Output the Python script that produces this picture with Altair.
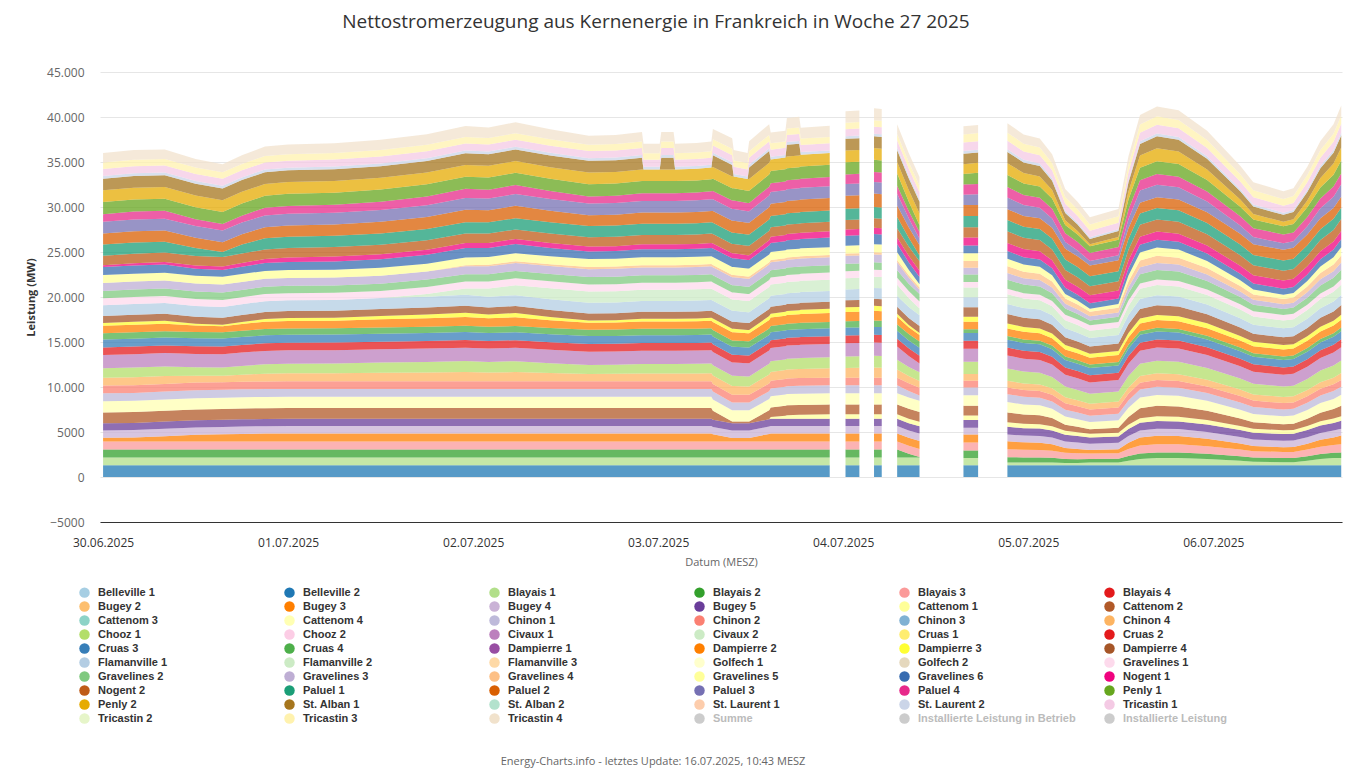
import altair as alt
import pandas as pd

TITLE = "Nettostromerzeugung aus Kernenergie in Frankreich in Woche 27 2025"
FOOTER = "Energy-Charts.info - letztes Update: 16.07.2025, 10:43 MESZ"
X_TITLE = "Datum (MESZ)"
Y_TITLE = "Leistung (MW)"
START = "2025-06-30 00:00:00"
DAYS = [(6, 30), (7, 1), (7, 2), (7, 3), (7, 4), (7, 5), (7, 6)]
Y_TICKS = [-5000, 0, 5000, 10000, 15000, 20000, 25000, 30000, 35000, 40000, 45000]

UNITS = [
    "Belleville 1", "Belleville 2", "Blayais 1", "Blayais 2", "Blayais 3", "Blayais 4",
    "Bugey 2", "Bugey 3", "Bugey 4", "Bugey 5", "Cattenom 1", "Cattenom 2",
    "Cattenom 3", "Cattenom 4", "Chinon 1", "Chinon 2", "Chinon 3", "Chinon 4",
    "Chooz 1", "Chooz 2", "Civaux 1", "Civaux 2", "Cruas 1", "Cruas 2",
    "Cruas 3", "Cruas 4", "Dampierre 1", "Dampierre 2", "Dampierre 3", "Dampierre 4",
    "Flamanville 1", "Flamanville 2", "Flamanville 3", "Golfech 1", "Golfech 2", "Gravelines 1",
    "Gravelines 2", "Gravelines 3", "Gravelines 4", "Gravelines 5", "Gravelines 6", "Nogent 1",
    "Nogent 2", "Paluel 1", "Paluel 2", "Paluel 3", "Paluel 4", "Penly 1",
    "Penly 2", "St. Alban 1", "St. Alban 2", "St. Laurent 1", "St. Laurent 2", "Tricastin 1",
    "Tricastin 2", "Tricastin 3", "Tricastin 4",
]
COLORS = [
    "#a6cee3", "#1f78b4", "#b2df8a", "#33a02c", "#fb9a99", "#e31a1c",
    "#fdbf6f", "#ff7f00", "#cab2d6", "#6a3d9a", "#ffff99", "#b15928",
    "#8dd3c7", "#ffffb3", "#bebada", "#fb8072", "#80b1d3", "#fdb462",
    "#b3de69", "#fccde5", "#bc80bd", "#ccebc5", "#ffed6f", "#e41a1c",
    "#377eb8", "#4daf4a", "#984ea3", "#ff7f00", "#ffff33", "#a65628",
    "#b3cde3", "#ccebc5", "#fed9a6", "#ffffcc", "#e5d8bd", "#fddaec",
    "#7fc97f", "#beaed4", "#fdc086", "#ffff99", "#386cb0", "#f0027f",
    "#bf5b17", "#1b9e77", "#d95f02", "#7570b3", "#e7298a", "#66a61e",
    "#e6ab02", "#a6761d", "#b3e2cd", "#fdcdac", "#cbd5e8", "#f4cae4",
    "#e6f5c9", "#fff2ae", "#f1e2cc",
]
EXTRA_ENTRIES = ["Summe", "Installierte Leistung in Betrieb", "Installierte Leistung"]
EXTRA_COLORS = ["#cccccc", "#cccccc", "#cccccc"]

# hours after 30.06.2025 00:00 (MESZ)
HOURS = [
    0, 4, 8, 12, 15.5, 18, 21, 24, 30, 36, 42, 47, 50, 53.5, 58, 63, 66.5,
    69.9, 70.1, 72.2, 72.4, 74.0, 74.2, 77, 78.9, 79.1, 81.6, 81.8, 83.6, 83.8, 86.4, 86.6, 88.5, 88.7, 90.3, 90.5, 94.25,
    96.3, 98.1, 100.0, 101.0, 103.0, 104.5, 105.9,
    111.6, 113.5,
    117.3, 119.4, 121.5, 123.1, 124.8, 126.4, 128, 131.7, 133, 134.5, 136.7, 139.5, 143.2, 147.5, 149.2, 153.1, 154.4, 156.2, 157.9, 159.6, 160.6,
]
# hours without data (the areas break there)
GAP_HOURS = [95.3, 99.0, 102.0, 108.0, 115.0]

# net generation in MW per unit (units not listed produced nothing)
MW = {
    "Belleville 2": [
        1300, 1300, 1300, 1300, 1300, 1300, 1300, 1300, 1300, 1300, 1300, 1300, 1300, 1300, 1300, 1300, 1300,
        1300, 1300, 1300, 1300, 1300, 1300, 1300, 1300, 1300, 1300, 1300, 1300, 1300, 1300, 1300, 1300, 1300, 1300, 1300, 1300,
        1300, 1300, 1300, 1300, 1300, 1300, 1300,
        1300, 1300,
        1300, 1300, 1300, 1300, 1300, 1300, 1300, 1300, 1300, 1300, 1300, 1300, 1300, 1300, 1300, 1300, 1300, 1300, 1300, 1300, 1300],
    "Blayais 1": [
        880, 880, 880, 880, 880, 880, 880, 880, 880, 880, 880, 880, 880, 880, 880, 880, 880,
        880, 880, 880, 880, 880, 880, 880, 880, 880, 880, 880, 880, 880, 880, 880, 880, 880, 880, 880, 880,
        880, 880, 880, 880, 880, 880, 880,
        800, 800,
        300, 300, 300, 300, 250, 250, 300, 300, 500, 700, 800, 800, 700, 500, 400, 350, 350, 500, 700, 800, 800],
    "Blayais 2": [
        880, 880, 880, 880, 880, 880, 880, 880, 880, 880, 880, 880, 880, 880, 880, 880, 880,
        880, 880, 880, 880, 880, 880, 880, 880, 880, 880, 880, 880, 880, 880, 880, 880, 880, 880, 880, 880,
        880, 880, 880, 880, 880, 400, 50,
        850, 850,
        600, 580, 570, 530, 460, 430, 400, 420, 530, 610, 630, 620, 580, 510, 470, 450, 460, 500, 550, 590, 630],
    "Blayais 3": [
        880, 880, 880, 880, 880, 880, 880, 880, 880, 880, 880, 880, 880, 880, 880, 880, 880,
        880, 880, 880, 880, 880, 880, 880, 880, 880, 880, 880, 880, 880, 880, 880, 880, 880, 880, 880, 880,
        880, 880, 880, 880, 880, 880, 880,
        880, 880,
        880, 850, 840, 790, 680, 650, 600, 630, 780, 890, 920, 910, 850, 750, 700, 680, 680, 750, 820, 860, 920],
    "Bugey 3": [
        420, 450, 600, 750, 800, 850, 880, 900, 900, 900, 900, 900, 900, 900, 900, 900, 900,
        900, 900, 900, 900, 900, 900, 900, 900, 800, 400, 400, 400, 400, 850, 900, 900, 900, 900, 900, 900,
        900, 900, 900, 900, 900, 900, 900,
        880, 880,
        880, 820, 800, 720, 540, 480, 400, 440, 700, 900, 940, 920, 820, 650, 570, 530, 540, 650, 770, 850, 950],
    "Bugey 4": [
        820, 820, 820, 820, 820, 820, 820, 820, 820, 820, 820, 820, 820, 820, 820, 820, 820,
        820, 820, 820, 820, 820, 820, 820, 820, 820, 820, 820, 820, 820, 820, 820, 820, 820, 820, 820, 820,
        820, 820, 820, 820, 820, 820, 820,
        760, 760,
        760, 750, 750, 740, 720, 710, 700, 710, 740, 760, 770, 770, 750, 730, 720, 720, 720, 730, 750, 760, 770],
    "Bugey 5": [
        800, 800, 800, 800, 800, 800, 800, 800, 800, 800, 800, 800, 800, 800, 800, 800, 800,
        800, 800, 800, 800, 800, 800, 800, 800, 800, 800, 800, 800, 800, 800, 800, 800, 800, 800, 800, 800,
        800, 800, 800, 800, 800, 800, 800,
        850, 850,
        850, 830, 830, 800, 750, 730, 700, 710, 790, 860, 870, 860, 830, 780, 750, 740, 750, 780, 820, 840, 870],
    "Cattenom 1": [
        0, 0, 0, 0, 0, 0, 0, 0, 0, 0, 0, 0, 0, 0, 0, 0, 0,
        0, 0, 0, 0, 0, 0, 0, 0, 0, 0, 0, 0, 0, 0, 200, 350, 400, 450, 450, 500,
        500, 500, 500, 500, 500, 500, 500,
        500, 500,
        500, 490, 480, 470, 430, 420, 400, 410, 460, 500, 510, 510, 490, 450, 440, 430, 430, 450, 480, 490, 510],
    "Cattenom 2": [
        1200, 1200, 1200, 1200, 1200, 1200, 1200, 1200, 1200, 1200, 1200, 1200, 1200, 1200, 1200, 1200, 1200,
        1200, 1200, 1200, 1200, 1200, 1200, 1200, 1200, 1000, 200, 200, 200, 200, 1000, 1050, 1100, 1100, 1100, 1100, 1100,
        1100, 1100, 1100, 1100, 1100, 1100, 1100,
        1100, 1100,
        1100, 1030, 1000, 900, 680, 600, 500, 550, 880, 1130, 1180, 1150, 1030, 820, 720, 660, 680, 810, 960, 1060, 1180],
    "Cattenom 4": [
        1250, 1250, 1250, 1250, 1250, 1250, 1250, 1250, 1250, 1250, 1250, 1250, 1250, 1250, 1250, 1250, 1250,
        1250, 1250, 1250, 1250, 1250, 1250, 1250, 1250, 1250, 1250, 1250, 1250, 1250, 1250, 1250, 1250, 1250, 1250, 1250, 1250,
        1250, 1250, 1250, 1250, 1250, 1250, 1250,
        1150, 1150,
        1150, 1110, 1090, 1030, 910, 860, 800, 830, 1020, 1170, 1200, 1180, 1110, 990, 930, 890, 910, 980, 1070, 1130, 1200],
    "Chinon 1": [
        880, 880, 880, 880, 880, 880, 880, 880, 880, 880, 880, 880, 880, 880, 880, 880, 880,
        880, 880, 880, 880, 880, 880, 880, 880, 880, 880, 880, 880, 880, 880, 880, 880, 880, 880, 880, 880,
        880, 880, 880, 880, 880, 730, 580,
        880, 880,
        880, 860, 850, 820, 750, 730, 700, 720, 810, 890, 900, 900, 860, 800, 770, 750, 750, 790, 840, 870, 900],
    "Chinon 2": [
        850, 850, 850, 850, 850, 850, 850, 850, 850, 850, 850, 850, 850, 850, 850, 850, 850,
        850, 850, 850, 850, 850, 850, 850, 850, 850, 850, 850, 850, 850, 850, 850, 850, 850, 850, 850, 850,
        850, 850, 850, 850, 850, 850, 850,
        750, 750,
        750, 740, 740, 730, 720, 710, 700, 700, 730, 750, 760, 750, 740, 730, 720, 710, 720, 730, 740, 750, 760],
    "Chinon 4": [
        860, 890, 880, 760, 720, 780, 860, 880, 890, 940, 980, 1030, 980, 1020, 910, 810, 820,
        860, 860, 860, 860, 860, 860, 870, 890, 940, 960, 960, 920, 920, 1000, 990, 990, 1000, 1010, 1020, 1040,
        1080, 1090, 1120, 1110, 900, 810, 770,
        750, 750,
        750, 740, 730, 720, 680, 670, 650, 660, 710, 760, 760, 760, 740, 700, 690, 680, 680, 700, 730, 740, 760],
    "Chooz 1": [
        1050, 1080, 1070, 950, 910, 970, 1050, 1070, 1080, 1130, 1170, 1220, 1170, 1210, 1100, 1000, 1010,
        1050, 1050, 1050, 1050, 1050, 1050, 1060, 1080, 1130, 1150, 1150, 1110, 1110, 1190, 1180, 1180, 1190, 1200, 1210, 1230,
        1270, 1280, 1310, 1300, 1090, 1000, 960,
        1350, 1350,
        1350, 1320, 1310, 1270, 1180, 1140, 1100, 1120, 1260, 1360, 1380, 1370, 1320, 1230, 1190, 1170, 1180, 1230, 1290, 1340, 1390],
    "Civaux 1": [
        1480, 1480, 1480, 1480, 1480, 1480, 1480, 1480, 1480, 1480, 1480, 1480, 1480, 1480, 1480, 1480, 1480,
        1480, 1480, 1480, 1480, 1480, 1480, 1480, 1480, 1480, 1480, 1480, 1480, 1480, 1480, 1480, 1480, 1480, 1480, 1480, 1480,
        1480, 1480, 1480, 1480, 1480, 1230, 980,
        1450, 1450,
        1450, 1430, 1420, 1380, 1310, 1280, 1250, 1270, 1380, 1460, 1480, 1470, 1430, 1360, 1320, 1300, 1310, 1350, 1400, 1440, 1480],
    "Cruas 2": [
        850, 850, 850, 850, 850, 850, 850, 850, 850, 850, 850, 850, 850, 850, 850, 850, 850,
        850, 850, 850, 850, 850, 850, 850, 850, 850, 850, 850, 850, 850, 850, 850, 850, 850, 850, 850, 850,
        850, 850, 850, 850, 850, 850, 850,
        880, 880,
        880, 870, 870, 850, 820, 810, 800, 810, 850, 880, 890, 890, 870, 840, 830, 820, 820, 840, 860, 880, 890],
    "Cruas 3": [
        880, 880, 880, 880, 880, 880, 880, 880, 880, 880, 880, 880, 880, 880, 880, 880, 880,
        880, 880, 880, 880, 880, 880, 880, 880, 880, 880, 880, 880, 880, 880, 880, 880, 880, 880, 880, 880,
        880, 880, 880, 880, 880, 880, 880,
        880, 880,
        880, 870, 870, 850, 820, 810, 800, 810, 850, 880, 890, 890, 870, 840, 830, 820, 820, 840, 860, 880, 890],
    "Cruas 4": [
        700, 700, 700, 700, 700, 700, 700, 700, 700, 700, 700, 700, 700, 700, 700, 700, 700,
        700, 700, 700, 700, 700, 700, 700, 700, 700, 700, 700, 700, 700, 700, 700, 700, 700, 700, 700, 700,
        700, 700, 700, 700, 700, 700, 700,
        400, 400,
        400, 400, 400, 400, 400, 400, 400, 400, 400, 400, 400, 400, 400, 400, 400, 400, 400, 400, 400, 400, 400],
    "Dampierre 2": [
        820, 850, 840, 720, 680, 740, 820, 840, 850, 900, 940, 990, 940, 980, 870, 770, 780,
        820, 820, 820, 820, 820, 820, 830, 850, 900, 920, 920, 880, 880, 960, 950, 950, 960, 970, 980, 1000,
        1040, 1050, 1080, 1070, 860, 770, 730,
        850, 850,
        850, 840, 830, 820, 780, 770, 750, 760, 810, 860, 860, 860, 840, 800, 790, 780, 780, 800, 830, 840, 860],
    "Dampierre 3": [
        300, 330, 320, 200, 160, 220, 300, 320, 330, 380, 420, 470, 420, 460, 350, 250, 260,
        300, 300, 300, 300, 300, 300, 310, 330, 380, 400, 400, 360, 360, 440, 430, 430, 440, 450, 460, 480,
        520, 530, 560, 550, 340, 250, 210,
        550, 550,
        550, 540, 530, 520, 480, 470, 450, 460, 510, 560, 560, 560, 540, 500, 490, 480, 480, 500, 530, 540, 560],
    "Dampierre 4": [
        780, 780, 780, 780, 780, 780, 780, 780, 780, 780, 780, 780, 780, 780, 780, 780, 780,
        780, 780, 780, 780, 780, 780, 780, 780, 780, 780, 780, 780, 780, 780, 780, 780, 780, 780, 780, 780,
        780, 780, 780, 780, 780, 780, 780,
        1050, 1050,
        1050, 1020, 1010, 970, 880, 840, 800, 820, 960, 1060, 1080, 1070, 1020, 930, 890, 870, 880, 930, 990, 1040, 1090],
    "Flamanville 1": [
        1200, 1200, 1200, 1200, 1200, 1200, 1200, 1200, 1200, 1200, 1200, 1200, 1200, 1200, 1200, 1200, 1200,
        1200, 1200, 1200, 1200, 1200, 1200, 1200, 1200, 1200, 1200, 1200, 1200, 1200, 1200, 1200, 1200, 1200, 1200, 1200, 1200,
        1200, 1200, 1200, 1200, 1200, 1200, 1200,
        1100, 1100,
        1100, 1080, 1080, 1050, 1000, 980, 950, 960, 1040, 1110, 1120, 1110, 1080, 1030, 1000, 990, 1000, 1030, 1070, 1090, 1120],
    "Flamanville 2": [
        0, 0, 0, 0, 0, 0, 0, 0, 0, 0, 300, 700, 900, 1100, 1200, 1250, 1250,
        1250, 1250, 1250, 1250, 1250, 1250, 1250, 1250, 1250, 1250, 1250, 1250, 1250, 1250, 1250, 1250, 1250, 1250, 1250, 1250,
        1250, 1250, 1250, 1250, 1250, 1000, 750,
        1100, 1100,
        1100, 1060, 1050, 1000, 890, 850, 800, 830, 990, 1120, 1140, 1130, 1060, 960, 910, 880, 890, 960, 1030, 1080, 1140],
    "Gravelines 1": [
        780, 780, 780, 780, 780, 780, 780, 780, 780, 780, 780, 780, 780, 780, 780, 780, 780,
        780, 780, 780, 780, 780, 780, 780, 780, 780, 780, 780, 780, 780, 780, 780, 780, 780, 780, 780, 780,
        780, 780, 780, 780, 780, 780, 780,
        600, 600,
        600, 600, 600, 600, 600, 600, 600, 600, 600, 600, 600, 600, 600, 600, 600, 600, 600, 600, 600, 600, 600],
    "Gravelines 2": [
        820, 820, 820, 820, 820, 820, 820, 820, 820, 820, 820, 820, 820, 820, 820, 820, 820,
        820, 820, 820, 820, 820, 820, 820, 820, 820, 820, 820, 820, 820, 820, 820, 820, 820, 820, 820, 820,
        820, 820, 820, 820, 820, 820, 820,
        850, 850,
        1000, 950, 930, 850, 690, 630, 550, 590, 830, 1020, 1060, 1040, 950, 790, 710, 670, 690, 780, 900, 970, 1060],
    "Gravelines 3": [
        880, 880, 880, 880, 880, 880, 880, 880, 880, 880, 880, 880, 880, 880, 880, 880, 880,
        880, 880, 880, 880, 880, 880, 880, 880, 880, 880, 880, 880, 880, 880, 880, 880, 880, 880, 880, 880,
        880, 880, 880, 880, 880, 680, 480,
        750, 750,
        750, 710, 700, 650, 540, 500, 450, 480, 640, 770, 790, 780, 710, 610, 560, 530, 540, 610, 680, 730, 790],
    "Gravelines 4": [
        0, 0, 0, 0, 0, 0, 0, 0, 0, 0, 0, 100, 150, 200, 200, 250, 250,
        250, 250, 250, 250, 250, 250, 250, 250, 250, 250, 250, 250, 250, 250, 250, 250, 250, 250, 250, 250,
        250, 250, 250, 250, 250, 250, 250,
        750, 750,
        750, 720, 710, 670, 580, 540, 500, 520, 660, 760, 780, 770, 720, 630, 590, 570, 580, 630, 690, 740, 790],
    "Gravelines 5": [
        880, 880, 880, 880, 880, 880, 880, 880, 880, 880, 880, 880, 880, 880, 880, 880, 880,
        880, 880, 880, 880, 880, 880, 880, 880, 880, 880, 880, 880, 880, 880, 880, 880, 880, 880, 880, 880,
        880, 880, 880, 880, 880, 630, 380,
        850, 850,
        850, 790, 770, 690, 500, 440, 350, 400, 670, 880, 920, 900, 790, 620, 530, 490, 500, 610, 740, 820, 920],
    "Gravelines 6": [
        880, 910, 900, 780, 740, 800, 880, 900, 910, 960, 1000, 1050, 1000, 1040, 930, 830, 840,
        880, 880, 880, 880, 880, 880, 890, 910, 960, 980, 980, 940, 940, 1020, 1010, 1010, 1020, 1030, 1040, 1060,
        1100, 1110, 1140, 1130, 920, 830, 790,
        850, 850,
        850, 820, 810, 770, 680, 640, 600, 620, 760, 860, 880, 870, 820, 730, 690, 670, 680, 730, 790, 840, 890],
    "Nogent 1": [
        200, 250, 300, 350, 400, 420, 450, 500, 550, 550, 550, 550, 550, 550, 550, 550, 550,
        550, 550, 550, 550, 550, 550, 550, 550, 550, 550, 550, 550, 550, 550, 700, 700, 700, 700, 700, 700,
        700, 700, 700, 700, 700, 700, 700,
        900, 900,
        900, 900, 900, 900, 900, 900, 900, 900, 900, 900, 900, 900, 900, 900, 900, 900, 900, 900, 900, 900, 900],
    "Nogent 2": [
        1050, 1050, 1050, 1050, 1050, 1050, 1050, 1050, 1050, 1050, 1050, 1050, 1050, 1050, 1050, 1050, 1050,
        1050, 1050, 1050, 1050, 1050, 1050, 1050, 1050, 1050, 1050, 1050, 1050, 1050, 1050, 1050, 1050, 1050, 1050, 1050, 1050,
        1050, 1050, 1050, 1050, 1050, 1050, 1050,
        1150, 1150,
        1300, 1260, 1250, 1200, 1090, 1050, 1000, 1030, 1190, 1320, 1340, 1330, 1260, 1160, 1110, 1080, 1090, 1160, 1230, 1280, 1340],
    "Paluel 1": [
        1250, 1250, 1200, 900, 550, 1000, 1250, 1250, 1250, 1250, 1250, 1250, 1250, 1250, 1250, 1250, 1250,
        1250, 1250, 1250, 1250, 1250, 1250, 1250, 1250, 1250, 1250, 1250, 1250, 1250, 1250, 1250, 1250, 1250, 1250, 1250, 1250,
        1250, 1250, 1250, 1250, 1250, 950, 650,
        1250, 1250,
        1250, 1230, 1230, 1200, 1150, 1130, 1100, 1110, 1190, 1260, 1270, 1260, 1230, 1180, 1150, 1140, 1150, 1180, 1220, 1240, 1270],
    "Paluel 2": [
        1230, 1260, 1250, 1130, 1090, 1150, 1230, 1250, 1260, 1310, 1350, 1400, 1350, 1390, 1280, 1180, 1190,
        1230, 1230, 1230, 1230, 1230, 1230, 1240, 1260, 1310, 1330, 1330, 1290, 1290, 1370, 1360, 1360, 1370, 1380, 1390, 1410,
        1450, 1460, 1490, 1480, 1270, 1180, 1140,
        1200, 1200,
        1200, 1200, 1200, 1200, 1200, 1200, 1200, 1200, 1200, 1200, 1200, 1200, 1200, 1200, 1200, 1200, 1200, 1200, 1200, 1200, 1200],
    "Paluel 3": [
        1300, 1300, 1300, 1300, 1300, 1300, 1300, 1300, 1300, 1300, 1300, 1300, 1300, 1300, 1300, 1300, 1300,
        1300, 1300, 1300, 1300, 1300, 1300, 1300, 1300, 1300, 1300, 1300, 1300, 1300, 1300, 1300, 1300, 1300, 1300, 1300, 1300,
        1300, 1300, 1300, 1300, 1300, 1000, 700,
        1150, 1200,
        1300, 1200, 1170, 1040, 740, 640, 500, 570, 1000, 1340, 1400, 1370, 1200, 920, 790, 720, 740, 920, 1120, 1250, 1410],
    "Paluel 4": [
        850, 880, 870, 750, 710, 770, 850, 870, 880, 930, 970, 1020, 970, 1010, 900, 800, 810,
        850, 850, 850, 850, 850, 850, 860, 880, 930, 950, 950, 910, 910, 990, 980, 980, 990, 1000, 1010, 1030,
        1070, 1080, 1110, 1100, 890, 800, 760,
        1150, 1150,
        1150, 1120, 1110, 1070, 980, 940, 900, 920, 1060, 1160, 1180, 1170, 1120, 1030, 990, 970, 980, 1030, 1090, 1140, 1190],
    "Penly 1": [
        1350, 1350, 1350, 1350, 1350, 1350, 1350, 1350, 1350, 1350, 1350, 1350, 1350, 1350, 1350, 1350, 1350,
        1350, 1350, 1350, 1350, 1350, 1350, 1350, 1350, 1350, 1350, 1350, 1350, 1350, 1350, 1350, 1350, 1350, 1350, 1350, 1350,
        1350, 1350, 1350, 1350, 1350, 1050, 750,
        1150, 1250,
        1350, 1280, 1250, 1150, 930, 850, 750, 800, 1130, 1380, 1430, 1400, 1280, 1070, 970, 910, 930, 1060, 1210, 1310, 1430],
    "Penly 2": [
        1300, 1300, 1300, 1300, 1300, 1300, 1300, 1300, 1300, 1300, 1300, 1300, 1300, 1300, 1300, 1300, 1300,
        1300, 1300, 1300, 1300, 1300, 1300, 1300, 1300, 1300, 1300, 1300, 1300, 1300, 1300, 1300, 1300, 1300, 1300, 1300, 1300,
        1300, 1300, 1300, 1300, 1300, 1300, 1300,
        1100, 1100,
        1300, 1170, 1120, 940, 530, 390, 200, 300, 890, 1360, 1440, 1400, 1170, 780, 600, 500, 530, 770, 1050, 1230, 1450],
    "St. Alban 1": [
        1300, 1300, 1300, 1300, 1300, 1300, 1300, 1300, 1300, 1300, 1300, 1300, 1300, 1300, 1300, 1300, 1300,
        1300, 0, 0, 1300, 1300, 0, 0, 0, 1300, 1300, 0, 0, 1300, 1300, 0, 0, 1300, 1300, 0, 0,
        1300, 1300, 1300, 1300, 1300, 1300, 1300,
        1150, 1150,
        1250, 1170, 1150, 1040, 800, 710, 600, 660, 1010, 1280, 1330, 1310, 1170, 940, 830, 780, 800, 940, 1100, 1210, 1340],
    "St. Laurent 2": [
        300, 300, 300, 300, 300, 300, 300, 300, 300, 300, 300, 300, 300, 300, 300, 300, 300,
        300, 300, 300, 300, 300, 300, 300, 300, 300, 300, 300, 300, 300, 300, 300, 300, 300, 300, 300, 300,
        300, 300, 300, 300, 300, 300, 300,
        300, 300,
        300, 290, 280, 270, 230, 220, 200, 210, 260, 300, 310, 310, 290, 250, 240, 230, 230, 250, 280, 290, 310],
    "Tricastin 1": [
        780, 780, 780, 780, 780, 780, 780, 780, 780, 780, 780, 780, 780, 780, 780, 780, 780,
        780, 780, 780, 780, 780, 780, 780, 780, 780, 780, 780, 780, 780, 780, 780, 780, 780, 780, 780, 780,
        780, 780, 780, 780, 780, 780, 780,
        950, 950,
        950, 920, 910, 870, 780, 740, 700, 720, 860, 960, 980, 970, 920, 830, 790, 770, 780, 830, 890, 940, 990],
    "Tricastin 3": [
        720, 720, 720, 720, 720, 720, 720, 720, 720, 720, 720, 720, 720, 720, 720, 720, 720,
        720, 720, 720, 720, 720, 720, 720, 720, 720, 720, 720, 720, 720, 720, 720, 720, 720, 720, 720, 720,
        720, 720, 720, 720, 720, 720, 720,
        900, 900,
        900, 880, 870, 830, 760, 730, 700, 720, 830, 910, 930, 920, 880, 810, 770, 750, 760, 800, 850, 890, 930],
    "Tricastin 4": [
        1050, 1080, 1070, 950, 910, 970, 1050, 1070, 1080, 1130, 1170, 1220, 1170, 1210, 1100, 1000, 1010,
        1050, 1050, 1050, 1050, 1050, 1050, 1060, 1080, 1130, 1150, 1150, 1110, 1110, 1190, 1180, 1180, 1190, 1200, 1210, 1230,
        1270, 1280, 1310, 1300, 1090, 1000, 960,
        900, 900,
        1050, 1020, 1010, 970, 880, 840, 800, 820, 960, 1060, 1080, 1070, 1020, 930, 890, 870, 880, 930, 990, 1040, 1090],
}

for _name, _vals in MW.items():
    assert len(_vals) == len(HOURS), (_name, len(_vals))

# ---- long table with stacked bounds (bottom = first unit of the legend)
start = pd.Timestamp(START)
points = sorted([(h, False) for h in HOURS] + [(h, True) for h in GAP_HOURS])
records = []
for h, is_gap in points:
    ts = (start + pd.Timedelta(hours=h)).strftime("%Y-%m-%dT%H:%M:%S")
    cum = 0.0
    for name in UNITS:
        if name not in MW:
            continue
        if is_gap:
            records.append({"time": ts, "unit": name, "y0": None, "y1": None})
        else:
            v = MW[name][HOURS.index(h)]
            records.append({"time": ts, "unit": name, "y0": cum, "y1": cum + v})
            cum += v
df = pd.DataFrame(records)

x_start = alt.DateTime(year=2025, month=6, date=29, hours=23, minutes=36)
x_end = alt.DateTime(year=2025, month=7, date=6, hours=16, minutes=42)
day_ticks = [alt.DateTime(year=2025, month=m, date=d) for m, d in DAYS]

grey_expr = "indexof(" + str(EXTRA_ENTRIES) + ", datum.label) >= 0 ? '#bbbbbb' : '#333333'"

chart = alt.Chart(df).mark_area(fillOpacity=0.75, strokeWidth=0).encode(
    x=alt.X(
        "time:T",
        scale=alt.Scale(domain=[x_start, x_end]),
        axis=alt.Axis(
            title=X_TITLE, values=day_ticks, format="%d.%m.%Y", grid=False, ticks=False,
            labelPadding=15, titlePadding=8, domainColor="#333333", domainWidth=1,
            labelColor="#333333", labelFontSize=12, labelFont="Open Sans",
            titleColor="#666666", titleFontSize=11, titleFontWeight="normal", titleFont="Open Sans",
        ),
    ),
    y=alt.Y(
        "y1:Q",
        stack=None,
        scale=alt.Scale(domain=[-5000, 45000], nice=False, zero=False),
        axis=alt.Axis(
            title=Y_TITLE, values=Y_TICKS, domain=False, ticks=False,
            labelExpr="abs(datum.value) >= 10000 ? replace(format(datum.value, ','), ',', '.') : format(datum.value, 'd')",
            labelColor="#666666", labelFontSize=12, labelFont="Open Sans", labelPadding=16,
            gridColor="#e6e6e6", gridWidth=1,
            titleColor="#333333", titleFontSize=11, titleFontWeight="bold", titleFont="Open Sans", titlePadding=10,
        ),
    ),
    y2="y0:Q",
    color=alt.Color(
        "unit:N",
        scale=alt.Scale(domain=UNITS + EXTRA_ENTRIES, range=COLORS + EXTRA_COLORS),
        legend=alt.Legend(
            title=FOOTER, titleOrient="bottom", titleAnchor="middle", titleFont="Open Sans",
            titleFontSize=11, titleFontWeight="normal", titleColor="#666666", titlePadding=32,
            titleLimit=800,
            orient="none", legendX=-21, legendY=515, direction="horizontal", columns=6, gridAlign="all",
            columnPadding=28, rowPadding=2, symbolType="circle", symbolSize=110, symbolOpacity=1,
            symbolStrokeWidth=0, labelFont="Liberation Sans", labelFontSize=11, labelFontWeight="bold",
            labelColor={"expr": grey_expr}, labelLimit=300, labelOffset=8, symbolLimit=100,
        ),
    ),
).properties(
    width=1242,
    height=450,
    title=alt.TitleParams(
        text=TITLE, font="Open Sans", fontSize=19, fontWeight="normal", color="#333333",
        anchor="middle", frame="group", dx=-65, offset=34,
    ),
    padding={"left": 17, "top": 5, "right": 5, "bottom": 5},
).configure_view(strokeWidth=0)

chart.save("out.html", embed_options={"renderer": "svg", "actions": False})
